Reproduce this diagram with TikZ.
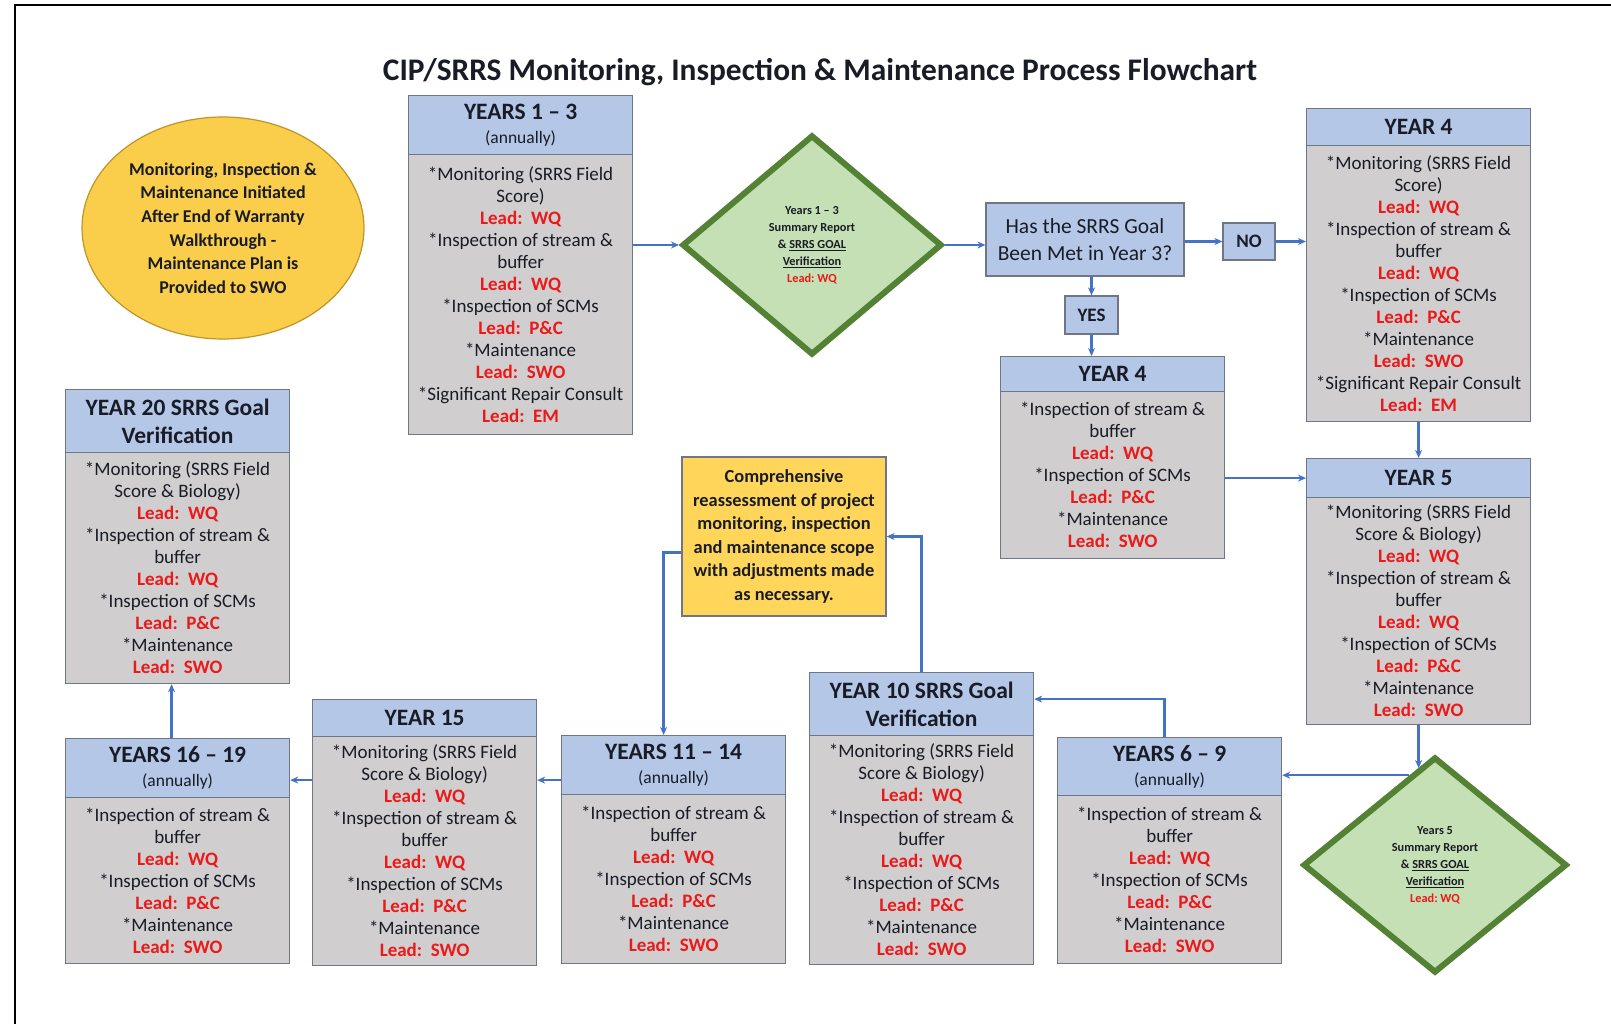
\documentclass[tikz,border=0pt]{standalone}
\usepackage{fontspec}
\setmainfont{Carlito}
\usetikzlibrary{shapes.geometric,arrows.meta}
\definecolor{hdrblue}{RGB}{180,199,231}
\definecolor{bodygray}{RGB}{208,206,206}
\definecolor{boxline}{RGB}{110,118,135}
\definecolor{connblue}{RGB}{68,114,196}
\definecolor{leadred}{RGB}{235,25,25}
\definecolor{dgreen}{RGB}{84,130,53}
\definecolor{lgreen}{RGB}{197,224,180}
\definecolor{ylw}{RGB}{250,205,75}
\definecolor{ylwline}{RGB}{190,150,40}
\definecolor{ylwbox}{RGB}{255,214,90}
\definecolor{ink}{RGB}{25,28,38}
\newcommand\ld[1]{{\color{leadred}\bfseries Lead:\ \ #1}}
\newcommand\annual{\\[-4pt]{\mdseries\fontsize{17.5}{20}\selectfont(annually)}}
\newcommand\yrbox[7]{%
  \node[hdr,minimum height={#4-#3},anchor=north west] (#1h) at (#2,#3) {#6};
  \node[bod,minimum height={#5-#4},anchor=north west] (#1) at (#2,#4) {#7};}
\tikzset{
  hdr/.style={draw=boxline,line width=1.2pt,fill=hdrblue,minimum width=224pt,inner sep=0pt,align=center,text=ink,font=\fontsize{23.5}{28}\selectfont\bfseries},
  bod/.style={draw=boxline,line width=1.2pt,fill=bodygray,minimum width=224pt,inner sep=0pt,align=center,text=ink,font=\fontsize{19}{22}\selectfont},
  qbox/.style={draw=boxline,line width=1.2pt,fill=hdrblue,inner sep=0pt,align=center,text=ink},
  dia/.style={diamond,draw=dgreen,line width=6pt,fill=lgreen,inner sep=0pt,align=center,text=ink,font=\fontsize{12.3}{17}\selectfont\bfseries},
  conn/.style={draw=connblue,line width=2.4pt,-{Stealth[length=8pt,width=7pt]}},
}
\begin{document}
\begin{tikzpicture}[x=1pt,y=-1pt]
\useasboundingbox (0,0) rectangle (1611,1024);
\fill[white] (0,0) rectangle (1611,1024);
\draw[line width=2pt,black] (15,1024) -- (15,5) -- (1611,5);

\node[text=ink,font=\fontsize{31.4}{34}\selectfont\bfseries] (title) at (820,72)
  {CIP/SRRS Monitoring, Inspection \& Maintenance Process Flowchart};

\node[ellipse,draw=ylwline,line width=1.2pt,fill=ylw,minimum width=282pt,minimum height=222pt,
  align=center,text=ink,font=\fontsize{18}{23.6}\selectfont\bfseries] (start) at (223,228)
  {Monitoring, Inspection \&\\Maintenance Initiated\\After End of Warranty\\Walkthrough -\\Maintenance Plan is\\Provided to SWO};

\yrbox{Y13}{408}{95}{154}{434}{YEARS 1 -- 3\annual}
 {*Monitoring (SRRS Field\\{}Score)\\\ld{WQ}\\{}*Inspection of stream \&\\{}buffer\\\ld{WQ}\\{}*Inspection of SCMs\\\ld{P\&C}\\{}*Maintenance\\\ld{SWO}\\{}*Significant Repair Consult\\\ld{EM}}

\node[dia,minimum width=260pt,minimum height=220pt] (d1) at (812,245)
  {Years 1 -- 3\\Summary Report\\\& \underline{SRRS GOAL}\\\underline{Verification}\\{\color{leadred}Lead:\ WQ}};

\node[qbox,minimum width=198pt,minimum height=73pt,font=\fontsize{21.5}{27}\selectfont] (has) at (1085,239.5)
  {Has the SRRS Goal\\Been Met in Year 3?};
\node[qbox,minimum width=52pt,minimum height=37pt,font=\fontsize{19}{22}\selectfont\bfseries] (no) at (1249,241.5) {NO};
\node[qbox,minimum width=53pt,minimum height=38pt,font=\fontsize{19}{22}\selectfont\bfseries] (yes) at (1091.5,315) {YES};

\yrbox{Y4R}{1306}{108}{145}{421}{YEAR 4}
 {*Monitoring (SRRS Field\\{}Score)\\\ld{WQ}\\{}*Inspection of stream \&\\{}buffer\\\ld{WQ}\\{}*Inspection of SCMs\\\ld{P\&C}\\{}*Maintenance\\\ld{SWO}\\{}*Significant Repair Consult\\\ld{EM}}

\yrbox{Y4C}{1000}{356}{391}{558}{YEAR 4}
 {*Inspection of stream \&\\{}buffer\\\ld{WQ}\\{}*Inspection of SCMs\\\ld{P\&C}\\{}*Maintenance\\\ld{SWO}}

\yrbox{Y5}{1306}{458}{497}{724}{YEAR 5}
 {*Monitoring (SRRS Field\\{}Score \& Biology)\\\ld{WQ}\\{}*Inspection of stream \&\\{}buffer\\\ld{WQ}\\{}*Inspection of SCMs\\\ld{P\&C}\\{}*Maintenance\\\ld{SWO}}

\node[dia,minimum width=264pt,minimum height=216pt] (d2) at (1435,865)
  {Years 5\\Summary Report\\\& \underline{SRRS GOAL}\\\underline{Verification}\\{\color{leadred}Lead:\ WQ}};

\yrbox{Y69}{1057}{737}{795}{963}{YEARS 6 -- 9\annual}
 {*Inspection of stream \&\\{}buffer\\\ld{WQ}\\{}*Inspection of SCMs\\\ld{P\&C}\\{}*Maintenance\\\ld{SWO}}

\yrbox{Y10}{809}{672}{735}{964}{YEAR 10 SRRS Goal\\Verification}
 {*Monitoring (SRRS Field\\{}Score \& Biology)\\\ld{WQ}\\{}*Inspection of stream \&\\{}buffer\\\ld{WQ}\\{}*Inspection of SCMs\\\ld{P\&C}\\{}*Maintenance\\\ld{SWO}}

\node[draw=boxline,line width=1.2pt,fill=ylwbox,minimum width=204pt,minimum height=159pt,inner sep=0pt,
  align=center,text=ink,font=\fontsize{18.4}{23.5}\selectfont\bfseries] (comp) at (784,536.5)
  {Comprehensive\\reassessment of project\\monitoring, inspection\\and maintenance scope\\with adjustments made\\as necessary.};

\yrbox{Y1114}{561}{735}{794}{963}{YEARS 11 -- 14\annual}
 {*Inspection of stream \&\\{}buffer\\\ld{WQ}\\{}*Inspection of SCMs\\\ld{P\&C}\\{}*Maintenance\\\ld{SWO}}

\yrbox{Y15}{312}{699}{736}{965}{YEAR 15}
 {*Monitoring (SRRS Field\\{}Score \& Biology)\\\ld{WQ}\\{}*Inspection of stream \&\\{}buffer\\\ld{WQ}\\{}*Inspection of SCMs\\\ld{P\&C}\\{}*Maintenance\\\ld{SWO}}

\yrbox{Y1619}{65}{738}{797}{963}{YEARS 16 -- 19\annual}
 {*Inspection of stream \&\\{}buffer\\\ld{WQ}\\{}*Inspection of SCMs\\\ld{P\&C}\\{}*Maintenance\\\ld{SWO}}

\yrbox{Y20}{65}{389}{452}{683}{YEAR 20 SRRS Goal\\Verification}
 {*Monitoring (SRRS Field\\{}Score \& Biology)\\\ld{WQ}\\{}*Inspection of stream \&\\{}buffer\\\ld{WQ}\\{}*Inspection of SCMs\\\ld{P\&C}\\{}*Maintenance\\\ld{SWO}}

% connectors
\draw[conn] (Y13.east |- d1.west) -- (d1.west);
\draw[conn] (d1.east) -- (has.west |- d1.east);
\draw[conn] (has.east |- no.west) -- (no.west);
\draw[conn] (no.east) -- (Y4R.west |- no.east);
\draw[conn] (yes.north |- has.south) -- (yes.north);
\draw[conn] (yes.south) -- (yes.south |- Y4Ch.north);
\draw[conn] (Y4R.south) -- (Y5h.north);
\draw[conn] (Y4C.east |- Y5h.west) -- (Y5h.west);
\draw[conn] (Y5.south) -- (Y5.south |- d2.100);
\draw[conn] (d2.106.6) -- (Y69h.east |- d2.106.6);
\coordinate (c69) at ([xshift=-5pt]Y69h.north);
\coordinate (c10) at ([yshift=5pt]Y10h.east);
\draw[conn] (c69) |- (c10);
\draw[conn] (Y10h.north) |- (comp.east);
\coordinate (cc) at ([yshift=-16pt]comp.west);
\coordinate (c11) at ([xshift=-10pt]Y1114h.north);
\draw[conn] (cc) -| (c11);
\coordinate (c14) at ([yshift=-15pt]Y1114h.west);
\draw[conn] (c14) -- (Y15.east |- c14);
\draw[conn] (Y15.west |- c14) -- (Y1619h.east |- c14);
\coordinate (c16) at ([xshift=-6pt]Y1619h.north);
\draw[conn] (c16) -- (c16 |- Y20.south);
\end{tikzpicture}
\end{document}
